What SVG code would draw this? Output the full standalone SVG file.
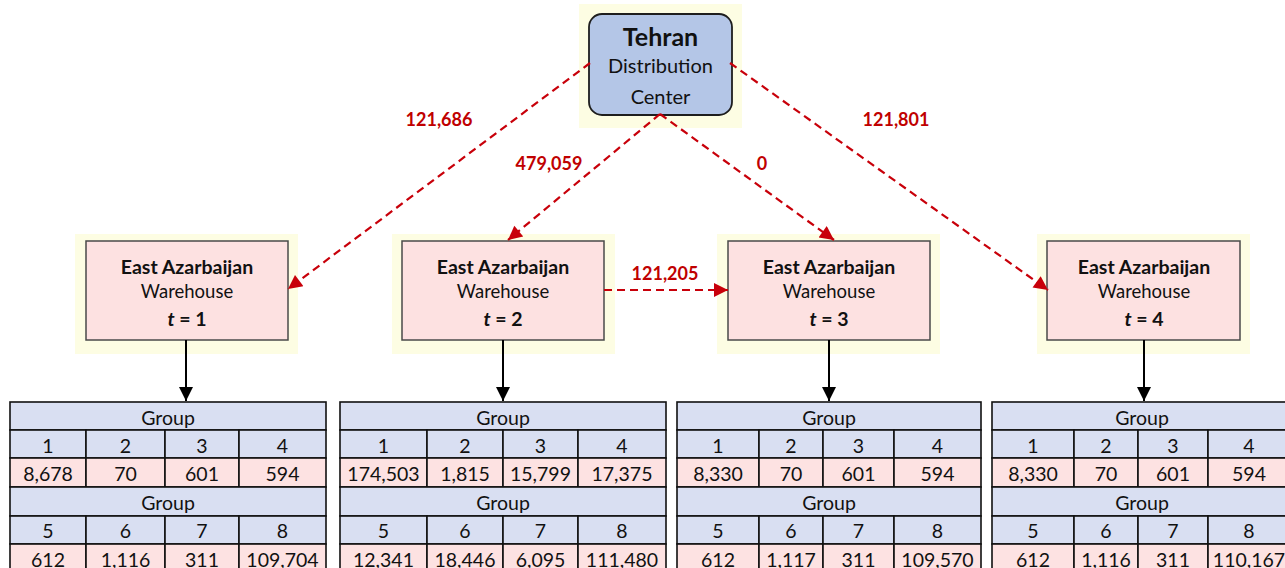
<svg xmlns="http://www.w3.org/2000/svg" width="1285" height="568" viewBox="0 0 1285 568">
<style>
.glow{fill:#fdfde3;}
.wh{fill:#fde1e1;stroke:#4a4a4a;stroke-width:1.5;}
.dc{fill:#b4c6e7;stroke:#1e1e1e;stroke-width:1.8;}
.t{font-family:Lato,"Liberation Sans",sans-serif;fill:#111;text-anchor:middle;dominant-baseline:central;}
.b{font-weight:bold;}
.lbl{font-family:Lato,"Liberation Sans",sans-serif;font-weight:bold;font-size:18px;fill:#c00000;text-anchor:middle;dominant-baseline:central;}
.red{stroke:#c8000a;stroke-width:2.2;stroke-dasharray:8,5;fill:none;}
.blk{stroke:#000;stroke-width:2;fill:none;}
.hd{fill:#d9dff2;stroke:#111;stroke-width:1.6;}
.vl{fill:#fde2e2;stroke:#111;stroke-width:1.6;}
.c{font-family:Lato,"Liberation Sans",sans-serif;font-size:19.5px;fill:#111;text-anchor:middle;dominant-baseline:central;}
</style>
<defs>
<marker id="ra" viewBox="0 0 10 10" refX="10" refY="5" markerWidth="18" markerHeight="14" markerUnits="userSpaceOnUse" orient="auto">
<path d="M0,0 L10,5 L0,10 z" fill="#c8000a"/>
</marker>
<marker id="ba" viewBox="0 0 10 10" refX="10" refY="5" markerWidth="20" markerHeight="14" markerUnits="userSpaceOnUse" orient="auto">
<path d="M0,0 L10,5 L0,10 z" fill="#000"/>
</marker>
</defs>
<rect width="1285" height="568" fill="#fff"/>

<g id="tehran">
<rect class="glow" x="579" y="4" width="163" height="124"/>
<rect class="dc" x="589" y="14" width="143" height="101" rx="13"/>
<text class="t b" x="660.5" y="36" font-size="25">Tehran</text>
<text class="t" x="660.5" y="65" font-size="20">Distribution</text>
<text class="t" x="660.5" y="96" font-size="20">Center</text>
</g>

<g id="wh1">
<rect class="glow" x="75" y="234" width="223" height="120"/>
<rect class="wh" x="86" y="241" width="202" height="99"/>
<text class="t b" x="187" y="266" font-size="19.5">East Azarbaijan</text>
<text class="t" x="187" y="291" font-size="18.5">Warehouse</text>
<text class="t b" x="187" y="318" font-size="19.5"><tspan font-style="italic">t</tspan> = 1</text>
</g>
<g id="wh2">
<rect class="glow" x="392" y="234" width="223" height="120"/>
<rect class="wh" x="402" y="241" width="202" height="99"/>
<text class="t b" x="503" y="266" font-size="19.5">East Azarbaijan</text>
<text class="t" x="503" y="291" font-size="18.5">Warehouse</text>
<text class="t b" x="503" y="318" font-size="19.5"><tspan font-style="italic">t</tspan> = 2</text>
</g>
<g id="wh3">
<rect class="glow" x="717" y="234" width="223" height="120"/>
<rect class="wh" x="728" y="241" width="202" height="99"/>
<text class="t b" x="829" y="266" font-size="19.5">East Azarbaijan</text>
<text class="t" x="829" y="291" font-size="18.5">Warehouse</text>
<text class="t b" x="829" y="318" font-size="19.5"><tspan font-style="italic">t</tspan> = 3</text>
</g>
<g id="wh4">
<rect class="glow" x="1037" y="234" width="213" height="120"/>
<rect class="wh" x="1047" y="241" width="193" height="99"/>
<text class="t b" x="1144" y="266" font-size="19.5">East Azarbaijan</text>
<text class="t" x="1144" y="291" font-size="18.5">Warehouse</text>
<text class="t b" x="1144" y="318" font-size="19.5"><tspan font-style="italic">t</tspan> = 4</text>
</g>

<g id="connectors">
<line class="red" x1="590" y1="63" x2="288" y2="289" marker-end="url(#ra)"/>
<line class="red" x1="660" y1="114" x2="508" y2="240" marker-end="url(#ra)"/>
<line class="red" x1="660" y1="114" x2="834" y2="240" marker-end="url(#ra)"/>
<line class="red" x1="730" y1="63" x2="1048" y2="290" marker-end="url(#ra)"/>
<line class="red" x1="604" y1="290" x2="728" y2="290" marker-end="url(#ra)"/>
<line class="blk" x1="186" y1="340" x2="186" y2="401" marker-end="url(#ba)"/>
<line class="blk" x1="503" y1="340" x2="503" y2="401" marker-end="url(#ba)"/>
<line class="blk" x1="829" y1="340" x2="829" y2="401" marker-end="url(#ba)"/>
<line class="blk" x1="1144" y1="340" x2="1144" y2="401" marker-end="url(#ba)"/>
<text class="lbl" x="439" y="119">121,686</text>
<text class="lbl" x="549" y="163">479,059</text>
<text class="lbl" x="762" y="163">0</text>
<text class="lbl" x="896" y="119">121,801</text>
<text class="lbl" x="665" y="273">121,205</text>
</g>

<g id="table1">
<rect class="hd" x="10" y="402" width="316" height="28"/>
<rect class="hd" x="10" y="430" width="76" height="28"/><rect class="hd" x="86" y="430" width="79" height="28"/><rect class="hd" x="165" y="430" width="74" height="28"/><rect class="hd" x="239" y="430" width="87" height="28"/>
<rect class="vl" x="10" y="458" width="76" height="29"/><rect class="vl" x="86" y="458" width="79" height="29"/><rect class="vl" x="165" y="458" width="74" height="29"/><rect class="vl" x="239" y="458" width="87" height="29"/>
<rect class="hd" x="10" y="487" width="316" height="29"/>
<rect class="hd" x="10" y="516" width="76" height="28"/><rect class="hd" x="86" y="516" width="79" height="28"/><rect class="hd" x="165" y="516" width="74" height="28"/><rect class="hd" x="239" y="516" width="87" height="28"/>
<rect class="vl" x="10" y="544" width="76" height="30"/><rect class="vl" x="86" y="544" width="79" height="30"/><rect class="vl" x="165" y="544" width="74" height="30"/><rect class="vl" x="239" y="544" width="87" height="30"/>
<text class="c" x="168" y="417">Group</text>
<text class="c" x="48" y="445">1</text><text class="c" x="125.5" y="445">2</text><text class="c" x="202" y="445">3</text><text class="c" x="282.5" y="445">4</text>
<text class="c" x="48" y="473">8,678</text><text class="c" x="125.5" y="473">70</text><text class="c" x="202" y="473">601</text><text class="c" x="282.5" y="473">594</text>
<text class="c" x="168" y="502">Group</text>
<text class="c" x="48" y="530">5</text><text class="c" x="125.5" y="530">6</text><text class="c" x="202" y="530">7</text><text class="c" x="282.5" y="530">8</text>
<text class="c" x="48" y="559">612</text><text class="c" x="125.5" y="559">1,116</text><text class="c" x="202" y="559">311</text><text class="c" x="282.5" y="559">109,704</text>
</g>

<g id="table2">
<rect class="hd" x="340" y="402" width="326" height="28"/>
<rect class="hd" x="340" y="430" width="87" height="28"/><rect class="hd" x="427" y="430" width="76" height="28"/><rect class="hd" x="503" y="430" width="75" height="28"/><rect class="hd" x="578" y="430" width="88" height="28"/>
<rect class="vl" x="340" y="458" width="87" height="29"/><rect class="vl" x="427" y="458" width="76" height="29"/><rect class="vl" x="503" y="458" width="75" height="29"/><rect class="vl" x="578" y="458" width="88" height="29"/>
<rect class="hd" x="340" y="487" width="326" height="29"/>
<rect class="hd" x="340" y="516" width="87" height="28"/><rect class="hd" x="427" y="516" width="76" height="28"/><rect class="hd" x="503" y="516" width="75" height="28"/><rect class="hd" x="578" y="516" width="88" height="28"/>
<rect class="vl" x="340" y="544" width="87" height="30"/><rect class="vl" x="427" y="544" width="76" height="30"/><rect class="vl" x="503" y="544" width="75" height="30"/><rect class="vl" x="578" y="544" width="88" height="30"/>
<text class="c" x="503" y="417">Group</text>
<text class="c" x="383.5" y="445">1</text><text class="c" x="465" y="445">2</text><text class="c" x="540.5" y="445">3</text><text class="c" x="622" y="445">4</text>
<text class="c" x="383.5" y="473">174,503</text><text class="c" x="465" y="473">1,815</text><text class="c" x="540.5" y="473">15,799</text><text class="c" x="622" y="473">17,375</text>
<text class="c" x="503" y="502">Group</text>
<text class="c" x="383.5" y="530">5</text><text class="c" x="465" y="530">6</text><text class="c" x="540.5" y="530">7</text><text class="c" x="622" y="530">8</text>
<text class="c" x="383.5" y="559">12,341</text><text class="c" x="465" y="559">18,446</text><text class="c" x="540.5" y="559">6,095</text><text class="c" x="622" y="559">111,480</text>
</g>

<g id="table3">
<rect class="hd" x="677" y="402" width="304" height="28"/>
<rect class="hd" x="677" y="430" width="82" height="28"/><rect class="hd" x="759" y="430" width="64" height="28"/><rect class="hd" x="823" y="430" width="71" height="28"/><rect class="hd" x="894" y="430" width="87" height="28"/>
<rect class="vl" x="677" y="458" width="82" height="29"/><rect class="vl" x="759" y="458" width="64" height="29"/><rect class="vl" x="823" y="458" width="71" height="29"/><rect class="vl" x="894" y="458" width="87" height="29"/>
<rect class="hd" x="677" y="487" width="304" height="29"/>
<rect class="hd" x="677" y="516" width="82" height="28"/><rect class="hd" x="759" y="516" width="64" height="28"/><rect class="hd" x="823" y="516" width="71" height="28"/><rect class="hd" x="894" y="516" width="87" height="28"/>
<rect class="vl" x="677" y="544" width="82" height="30"/><rect class="vl" x="759" y="544" width="64" height="30"/><rect class="vl" x="823" y="544" width="71" height="30"/><rect class="vl" x="894" y="544" width="87" height="30"/>
<text class="c" x="829" y="417">Group</text>
<text class="c" x="718" y="445">1</text><text class="c" x="791" y="445">2</text><text class="c" x="858.5" y="445">3</text><text class="c" x="937.5" y="445">4</text>
<text class="c" x="718" y="473">8,330</text><text class="c" x="791" y="473">70</text><text class="c" x="858.5" y="473">601</text><text class="c" x="937.5" y="473">594</text>
<text class="c" x="829" y="502">Group</text>
<text class="c" x="718" y="530">5</text><text class="c" x="791" y="530">6</text><text class="c" x="858.5" y="530">7</text><text class="c" x="937.5" y="530">8</text>
<text class="c" x="718" y="559">612</text><text class="c" x="791" y="559">1,117</text><text class="c" x="858.5" y="559">311</text><text class="c" x="937.5" y="559">109,570</text>
</g>

<g id="table4">
<rect class="hd" x="992" y="402" width="300" height="28"/>
<rect class="hd" x="992" y="430" width="82" height="28"/><rect class="hd" x="1074" y="430" width="64" height="28"/><rect class="hd" x="1138" y="430" width="70" height="28"/><rect class="hd" x="1208" y="430" width="84" height="28"/>
<rect class="vl" x="992" y="458" width="82" height="29"/><rect class="vl" x="1074" y="458" width="64" height="29"/><rect class="vl" x="1138" y="458" width="70" height="29"/><rect class="vl" x="1208" y="458" width="84" height="29"/>
<rect class="hd" x="992" y="487" width="300" height="29"/>
<rect class="hd" x="992" y="516" width="82" height="28"/><rect class="hd" x="1074" y="516" width="64" height="28"/><rect class="hd" x="1138" y="516" width="70" height="28"/><rect class="hd" x="1208" y="516" width="84" height="28"/>
<rect class="vl" x="992" y="544" width="82" height="30"/><rect class="vl" x="1074" y="544" width="64" height="30"/><rect class="vl" x="1138" y="544" width="70" height="30"/><rect class="vl" x="1208" y="544" width="84" height="30"/>
<text class="c" x="1142" y="417">Group</text>
<text class="c" x="1033" y="445">1</text><text class="c" x="1106" y="445">2</text><text class="c" x="1173" y="445">3</text><text class="c" x="1249" y="445">4</text>
<text class="c" x="1033" y="473">8,330</text><text class="c" x="1106" y="473">70</text><text class="c" x="1173" y="473">601</text><text class="c" x="1249" y="473">594</text>
<text class="c" x="1142" y="502">Group</text>
<text class="c" x="1033" y="530">5</text><text class="c" x="1106" y="530">6</text><text class="c" x="1173" y="530">7</text><text class="c" x="1249" y="530">8</text>
<text class="c" x="1033" y="559">612</text><text class="c" x="1106" y="559">1,116</text><text class="c" x="1173" y="559">311</text><text class="c" x="1249" y="559">110,167</text>
</g>
</svg>
